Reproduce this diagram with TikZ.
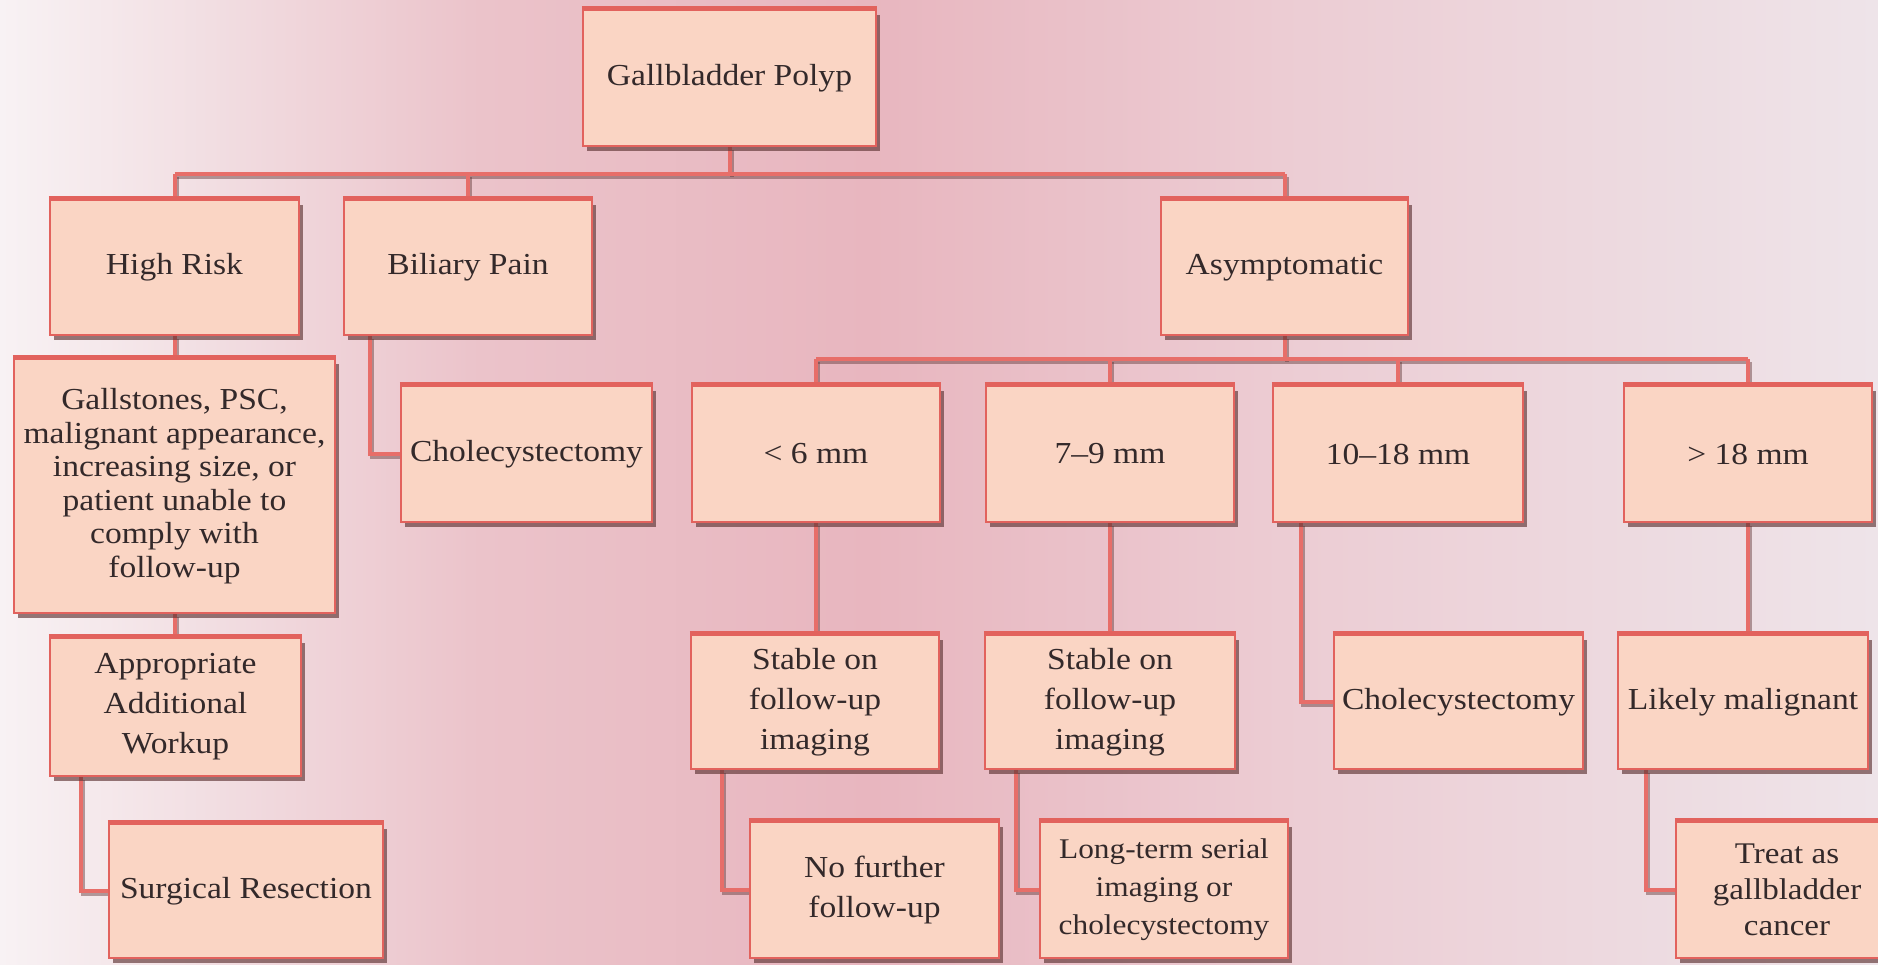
\documentclass[tikz,border=0pt]{standalone}
\usepackage{fontspec}
\setmainfont{Liberation Serif}[FakeStretch=1.1]
\usetikzlibrary{shadows}
\definecolor{boxfill}{HTML}{FAD5C4}
\definecolor{boxline}{HTML}{E2625D}
\definecolor{linkcol}{HTML}{E76E69}
\definecolor{shadowcol}{HTML}{5E3434}
\definecolor{txt}{HTML}{33292A}
\definecolor{bgA}{HTML}{F8F2F4}
\definecolor{bgB}{HTML}{F2DFE3}
\definecolor{bgC}{HTML}{EBC3CA}
\definecolor{bgD}{HTML}{E8B6BF}
\definecolor{bgE}{HTML}{ECCCD3}
\definecolor{bgF}{HTML}{EEE4E9}
\pgfdeclarelayer{back}
\pgfdeclarelayer{edges}
\pgfsetlayers{back,edges,main}
\tikzset{
  box/.style={draw=boxline, fill=boxfill, line width=2.5pt, inner sep=2pt,
    align=center, text=txt, font=\fontsize{30.5}{40}\selectfont,
    drop shadow={shadow xshift=3.5pt, shadow yshift=-4.5pt, fill=shadowcol, opacity=.65}},
  topband/.style={draw=boxline, line width=5pt},
  link/.style={draw=linkcol, line width=4pt,
    preaction={draw=shadowcol, opacity=.45, line width=4pt,
      transform canvas={shift={(2pt,-3pt)}}}},
}
\begin{document}
\begin{tikzpicture}[x=1pt,y=-1pt]
\useasboundingbox (0,0) rectangle (1878,964);
\begin{pgfonlayer}{back}
\fill[left color=bgA, right color=bgB] (0,0) rectangle (201,964);
\fill[left color=bgB, right color=bgC] (200,0) rectangle (481,964);
\fill[left color=bgC, right color=bgD] (480,0) rectangle (871,964);
\fill[left color=bgD, right color=bgE] (870,0) rectangle (1281,964);
\fill[left color=bgE, right color=bgF] (1280,0) rectangle (1878,964);
\end{pgfonlayer}

% level 0
\node[box, minimum width=293pt, minimum height=136pt] (gp) at (729.5,78) {Gallbladder Polyp};
% level 1
\node[box, minimum width=249pt, minimum height=135pt] (hr) at (174.5,267.5) {High Risk};
\node[box, minimum width=248pt, minimum height=135pt] (bp) at (468,267.5) {Biliary Pain};
\node[box, minimum width=247pt, minimum height=135pt] (as) at (1284.5,267.5) {Asymptomatic};
% level 2
\node[box, minimum width=321pt, minimum height=254pt, font=\fontsize{30.5}{33.5}\selectfont] (gs) at (174.5,486)
  {Gallstones, PSC,\\malignant appearance,\\increasing size, or\\patient unable to\\comply with\\follow-up};
\node[box, minimum width=251pt, minimum height=136pt] (ch1) at (526.5,454) {Cholecystectomy};
\node[box, minimum width=248pt, minimum height=136pt] (s6) at (816,454) {< 6 mm};
\node[box, minimum width=248pt, minimum height=136pt] (s79) at (1110,454) {7–9 mm};
\node[box, minimum width=250pt, minimum height=136pt] (s1018) at (1398,454) {10–18 mm};
\node[box, minimum width=248pt, minimum height=136pt] (s18) at (1748,454) {> 18 mm};
% level 3
\node[box, minimum width=251pt, minimum height=138pt] (aw) at (175.5,707) {Appropriate\\Additional\\Workup};
\node[box, minimum width=248pt, minimum height=134pt] (st1) at (815,702) {Stable on\\follow-up\\imaging};
\node[box, minimum width=250pt, minimum height=134pt] (st2) at (1110,702) {Stable on\\follow-up\\imaging};
\node[box, minimum width=249pt, minimum height=134pt] (ch3) at (1458.5,702) {Cholecystectomy};
\node[box, minimum width=250pt, minimum height=134pt] (lm) at (1743,702) {Likely malignant};
% level 4
\node[box, minimum width=274pt, minimum height=134pt] (sr) at (246,891) {Surgical Resection};
\node[box, minimum width=249pt, minimum height=136pt] (nf) at (874.5,890) {No further\\follow-up};
\node[box, minimum width=248pt, minimum height=136pt, font=\fontsize{28.5}{38}\selectfont] (lt) at (1164,890) {Long-term serial\\imaging or\\cholecystectomy};
\node[box, minimum width=222pt, minimum height=136pt, font=\fontsize{30}{36}\selectfont] (tr) at (1787,890) {Treat as\\gallbladder\\cancer};

\foreach \n in {gp,hr,bp,as,gs,ch1,s6,s79,s1018,s18,aw,st1,st2,ch3,lm,sr,nf,lt,tr}
  \draw[topband] (\n.north west) -- (\n.north east);

\begin{pgfonlayer}{edges}
\coordinate (bus1) at (0,174);
\coordinate (bus2) at (0,359);
\draw[link] (gp.south) -- (gp.south |- bus1);
\draw[link] (hr.north |- bus1) -- (as.north |- bus1);
\draw[link] (hr.north |- bus1) -- (hr.north);
\draw[link] (bp.north |- bus1) -- (bp.north);
\draw[link] (as.north |- bus1) -- (as.north);
\draw[link] (as.south) -- (as.south |- bus2);
\draw[link] (s6.north |- bus2) -- (s18.north |- bus2);
\foreach \n in {s6,s79,s1018,s18}
  \draw[link] (\n.north |- bus2) -- (\n.north);
\draw[link] (hr.south) -- (gs.north);
\draw[link] (gs.south) -- (gs.south |- aw.north);
\draw[link] (s6.south) -- (s6.south |- st1.north);
\draw[link] (s79.south) -- (s79.south |- st2.north);
\draw[link] (s18.south) -- (s18.south |- lm.north);
\draw[link] (bp.south west) ++(27,0) |- (ch1.west);
\draw[link] (aw.south west) ++(32,0) |- (sr.west);
\draw[link] (s1018.south west) ++(29,0) |- (ch3.west);
\draw[link] (st1.south west) ++(32,0) |- (nf.west);
\draw[link] (st2.south west) ++(32,0) |- (lt.west);
\draw[link] (lm.south west) ++(29,0) |- (tr.west);
\end{pgfonlayer}
\end{tikzpicture}
\end{document}
